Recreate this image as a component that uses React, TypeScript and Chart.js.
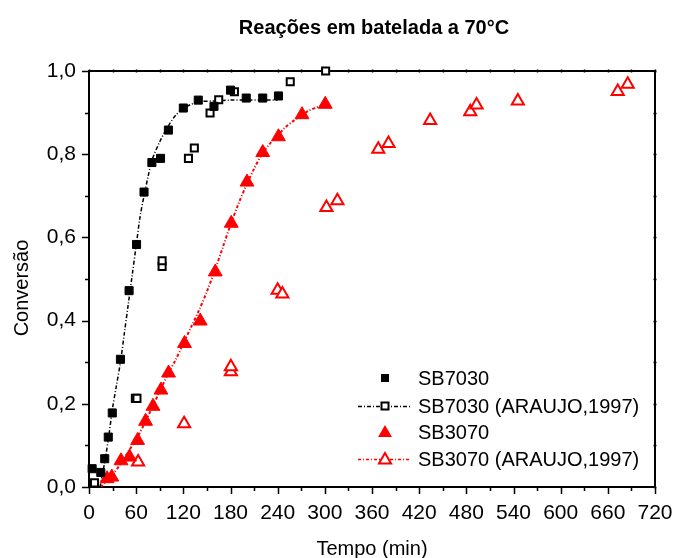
import React, { useEffect, useRef } from 'react';
import { Chart, registerables } from 'chart.js';

Chart.register(...registerables);

// ---------- data ----------
const chartTitle = 'Reações em batelada a 70°C';
const xAxisTitle = 'Tempo (min)';
const yAxisTitle = 'Conversão';

const xTicks = [0, 60, 120, 180, 240, 300, 360, 420, 480, 540, 600, 660, 720];
const yTicks = [0, 0.2, 0.4, 0.6, 0.8, 1.0];

const seriesNames = ['SB7030', 'SB7030 (ARAUJO,1997)', 'SB3070', 'SB3070 (ARAUJO,1997)'];

// SB7030 (filled squares)
const t7030 = [4, 15, 20, 24.5, 29.6, 40, 51, 60.5, 70, 80, 91, 101, 120, 139, 159, 180, 200, 221, 241];
const c7030 = [0.044, 0.035, 0.068, 0.12, 0.178, 0.307, 0.472, 0.583, 0.709, 0.78, 0.79, 0.858, 0.911, 0.93, 0.915, 0.954, 0.935, 0.935, 0.94];

// SB7030 (ARAUJO,1997) (open squares)
const tA7030 = [7, 59, 61, 93, 93, 126.5, 134, 154, 165, 185, 256, 301];
const cA7030 = [0.01, 0.213, 0.213, 0.53, 0.544, 0.79, 0.815, 0.899, 0.931, 0.95, 0.974, 1.0];

// SB7030 (ARAUJO,1997) curve
const tFit7030 = [14, 20, 25, 30, 35, 40, 45, 50, 55, 60, 65, 70, 75, 80, 90, 100, 110, 120, 130, 140, 160, 180, 200, 220, 240];
const cFit7030 = [0.0, 0.06, 0.12, 0.19, 0.245, 0.3, 0.37, 0.44, 0.51, 0.58, 0.65, 0.7, 0.745, 0.785, 0.83, 0.865, 0.893, 0.91, 0.92, 0.926, 0.928, 0.93, 0.93, 0.93, 0.93];

// SB3070 (filled triangles)
const t3070 = [23, 29, 40.7, 51.6, 61.8, 72, 81.4, 91.5, 101.2, 121.5, 141.5, 160.6, 181, 201, 221, 241, 271, 300.5];
const c3070 = [0.02, 0.024, 0.063, 0.072, 0.112, 0.158, 0.194, 0.233, 0.274, 0.345, 0.399, 0.517, 0.634, 0.733, 0.804, 0.842, 0.895, 0.92];

// SB3070 (ARAUJO,1997) (open triangles)
const tA3070 = [62.5, 121, 180.5, 180.5, 240, 246, 302, 316, 368, 381, 434, 485, 493, 545.5, 672.6, 685.3];
const cA3070 = [0.06, 0.152, 0.277, 0.289, 0.473, 0.464, 0.672, 0.688, 0.812, 0.826, 0.881, 0.902, 0.918, 0.928, 0.951, 0.968];

// SB3070 (ARAUJO,1997) curve
const tFit3070 = [15, 30, 40, 50, 60, 70, 80, 90, 100, 110, 120, 130, 140, 150, 160, 170, 180, 190, 200, 210, 220, 230, 240, 250, 260, 270, 280, 290, 300];
const cFit3070 = [0.0, 0.03, 0.055, 0.085, 0.115, 0.15, 0.19, 0.23, 0.27, 0.305, 0.345, 0.385, 0.425, 0.47, 0.52, 0.575, 0.63, 0.68, 0.725, 0.765, 0.8, 0.825, 0.845, 0.865, 0.88, 0.893, 0.905, 0.913, 0.92];

const FONT = "'Liberation Sans', Arial, sans-serif";
const RED = '#ff0000';
const BLACK = '#000000';
const DASH_BLACK = [4, 2, 1, 2];
const DASH_RED = [3, 2, 1, 2];

const pts = (xs: number[], ys: number[]) => xs.map((x, i) => ({ x, y: ys[i] }));
const fmtY = (v: number) => v.toFixed(1).replace('.', ',');

function drawMarker(ctx: CanvasRenderingContext2D, kind: string, x: number, y: number) {
  ctx.save();
  if (kind === 'sqFilled') {
    ctx.fillStyle = BLACK;
    ctx.fillRect(x - 4, y - 4, 8, 8);
  } else if (kind === 'sqOpen') {
    ctx.fillStyle = '#fff';
    ctx.fillRect(x - 3.5, y - 3.5, 7, 7);
    ctx.strokeStyle = BLACK;
    ctx.lineWidth = 2;
    ctx.strokeRect(x - 3.5, y - 3.5, 7, 7);
  } else {
    const r = kind === 'triFilled' ? 8 : 7;
    ctx.beginPath();
    ctx.moveTo(x, y - r);
    ctx.lineTo(x + r * 0.866, y + r * 0.5);
    ctx.lineTo(x - r * 0.866, y + r * 0.5);
    ctx.closePath();
    if (kind === 'triFilled') {
      ctx.fillStyle = RED;
      ctx.fill();
    } else {
      ctx.fillStyle = '#fff';
      ctx.fill();
      ctx.strokeStyle = RED;
      ctx.lineWidth = 2;
      ctx.stroke();
    }
  }
  ctx.restore();
}

const framePlugin = {
  id: 'frameAndText',
  beforeDatasetsDraw(chart: any) {
    const { ctx, chartArea: a, scales } = chart;
    const xs = scales.x;
    const ys = scales.y;
    ctx.save();
    ctx.strokeStyle = BLACK;
    ctx.lineWidth = 2;
    ctx.strokeRect(a.left, a.top, a.right - a.left, a.bottom - a.top);
    ctx.lineWidth = 1.5;
    ctx.beginPath();
    for (let v = 0; v <= 720; v += 30) {
      const px = Math.round(xs.getPixelForValue(v)) + 0.5;
      const major = v % 60 === 0;
      ctx.moveTo(px, a.bottom);
      ctx.lineTo(px, a.bottom + (major ? 7 : 4));
      ctx.moveTo(px, a.top - 1.5);
      ctx.lineTo(px, a.top + 1.5);
    }
    for (let i = 0; i <= 10; i++) {
      const v = i / 10;
      const py = Math.round(ys.getPixelForValue(v)) + 0.5;
      const major = i % 2 === 0;
      ctx.moveTo(a.left, py);
      ctx.lineTo(a.left - (major ? 7 : 4), py);
      ctx.moveTo(a.right - 1.5, py);
      ctx.lineTo(a.right + 1.5, py);
    }
    ctx.stroke();
    ctx.restore();
  },
  afterDraw(chart: any) {
    const { ctx, chartArea: a } = chart;
    ctx.save();
    ctx.fillStyle = BLACK;
    ctx.textAlign = 'center';
    ctx.textBaseline = 'middle';
    ctx.font = `bold 20px ${FONT}`;
    ctx.fillText(chartTitle, 374, 28);
    ctx.font = `20px ${FONT}`;
    ctx.fillText(xAxisTitle, (a.left + a.right) / 2, 549);
    ctx.save();
    ctx.translate(22, 288);
    ctx.rotate(-Math.PI / 2);
    ctx.fillText(yAxisTitle, 0, 0);
    ctx.restore();

    // legend
    const rows = [
      { label: seriesNames[0], y: 378, marker: 'sqFilled', line: null as any, color: BLACK },
      { label: seriesNames[1], y: 406, marker: 'sqOpen', line: DASH_BLACK, color: BLACK },
      { label: seriesNames[2], y: 432, marker: 'triFilled', line: null as any, color: RED },
      { label: seriesNames[3], y: 459, marker: 'triOpen', line: DASH_RED, color: RED },
    ];
    const mx = 385;
    rows.forEach((r) => {
      if (r.line) {
        ctx.save();
        ctx.strokeStyle = r.color;
        ctx.lineWidth = 1.5;
        ctx.setLineDash(r.line);
        ctx.beginPath();
        ctx.moveTo(358, r.y + 0.5);
        ctx.lineTo(411, r.y + 0.5);
        ctx.stroke();
        ctx.restore();
      }
      drawMarker(ctx, r.marker, mx, r.marker.startsWith('tri') ? r.y + 1 : r.y);
      ctx.fillStyle = BLACK;
      ctx.textAlign = 'left';
      ctx.textBaseline = 'middle';
      ctx.font = `20px ${FONT}`;
      ctx.fillText(r.label, 418, r.y + 1);
    });
    ctx.restore();
  },
};

export default function App() {
  const ref = useRef<HTMLCanvasElement | null>(null);

  useEffect(() => {
    if (!ref.current) return;
    const chart = new Chart(ref.current, {
      type: 'scatter',
      data: {
        datasets: [
          {
            label: seriesNames[0],
            data: pts(t7030, c7030),
            pointStyle: 'rect',
            pointRadius: 5.7,
            backgroundColor: BLACK,
            borderColor: BLACK,
            borderWidth: 1,
            showLine: false,
            clip: false,
            order: 1,
          },
          {
            label: seriesNames[1],
            data: pts(tA7030, cA7030),
            pointStyle: 'rect',
            pointRadius: 5,
            backgroundColor: '#ffffff',
            borderColor: BLACK,
            borderWidth: 2,
            showLine: false,
            clip: false,
            order: 2,
          },
          {
            label: seriesNames[2],
            data: pts(t3070, c3070),
            pointStyle: 'triangle',
            pointRadius: 8,
            backgroundColor: RED,
            borderColor: RED,
            borderWidth: 1,
            showLine: false,
            clip: false,
            order: 3,
          },
          {
            label: seriesNames[3],
            data: pts(tA3070, cA3070),
            pointStyle: 'triangle',
            pointRadius: 7,
            backgroundColor: '#ffffff',
            borderColor: RED,
            borderWidth: 2,
            showLine: false,
            clip: false,
            order: 4,
          },
          {
            label: seriesNames[1] + ' curve',
            data: pts(tFit7030, cFit7030),
            showLine: true,
            pointRadius: 0,
            borderColor: BLACK,
            borderWidth: 1.5,
            borderDash: DASH_BLACK,
            tension: 0.3,
            order: 5,
          },
          {
            label: seriesNames[3] + ' curve',
            data: pts(tFit3070, cFit3070),
            showLine: true,
            pointRadius: 0,
            borderColor: RED,
            borderWidth: 2,
            borderDash: DASH_RED,
            tension: 0.3,
            order: 6,
          },
        ],
      },
      options: {
        animation: false,
        responsive: false,
        events: [],
        layout: { padding: { top: 71, right: 20, left: 0, bottom: 0 } },
        plugins: {
          legend: { display: false },
          title: { display: false },
          tooltip: { enabled: false },
        },
        scales: {
          x: {
            type: 'linear',
            min: 0,
            max: 720,
            grid: { display: false },
            border: { display: false },
            afterBuildTicks: (s: any) => {
              s.ticks = xTicks.map((v) => ({ value: v }));
            },
            afterFit: (s: any) => {
              s.height = 71;
              s.paddingRight = 0;
              s.paddingLeft = 0;
            },
            ticks: {
              autoSkip: false,
              maxRotation: 0,
              padding: 6,
              color: BLACK,
              font: { family: FONT, size: 21 },
              callback: (v: any) => String(v),
            },
          },
          y: {
            type: 'linear',
            min: 0,
            max: 1,
            grid: { display: false },
            border: { display: false },
            afterBuildTicks: (s: any) => {
              s.ticks = yTicks.map((v) => ({ value: v }));
            },
            afterFit: (s: any) => {
              s.width = 89;
              s.paddingTop = 0;
              s.paddingBottom = 0;
            },
            ticks: {
              autoSkip: false,
              padding: 5,
              color: BLACK,
              font: { family: FONT, size: 21 },
              callback: (v: any) => fmtY(Number(v)),
            },
          },
        },
      },
      plugins: [framePlugin],
    } as any);
    return () => chart.destroy();
  }, []);

  return (
    <div style={{ position: 'absolute', left: 0, top: 0, width: 675, height: 558, background: '#fff' }}>
      <canvas ref={ref} width={675} height={558} style={{ width: 675, height: 558, display: 'block' }} />
    </div>
  );
}
